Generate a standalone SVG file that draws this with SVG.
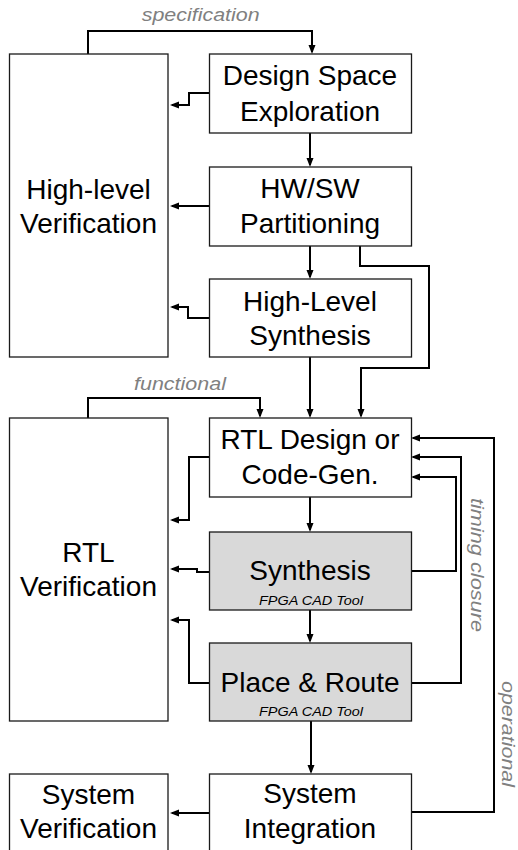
<svg xmlns="http://www.w3.org/2000/svg" width="518" height="850" viewBox="0 0 518 850">
<style>
.box{fill:#fff;stroke:#1a1a1a;stroke-width:1.3}
.tool{fill:#d9d9d9;stroke:#1a1a1a;stroke-width:1.3}
.t{font-family:"Liberation Sans",Arial,sans-serif;font-size:28px;fill:#000;text-anchor:middle}
.s{font-family:"Liberation Sans",Arial,sans-serif;font-size:13px;font-style:italic;fill:#000;text-anchor:middle}
.lbl{font-family:"Liberation Sans",Arial,sans-serif;font-size:18px;font-style:italic;fill:#808080}
.c{fill:none;stroke:#000;stroke-width:2;marker-end:url(#ah)}
</style>
<defs>
<marker id="ah" markerUnits="userSpaceOnUse" markerWidth="10" markerHeight="8" refX="7" refY="3.5" orient="auto">
<path d="M0,0 L9,3.5 L0,7 z" fill="#000"/>
</marker>
</defs>
<g id="connectors">
<path class="c" d="M88,54 V31 H312 V52"/>
<path class="c" d="M209,93 H189 V105 H172"/>
<path class="c" d="M310,133 V165"/>
<path class="c" d="M209,206 H172"/>
<path class="c" d="M310,246 V277"/>
<path class="c" d="M209,318 H188 V307 H172"/>
<path class="c" d="M360,246 V266 H429 V368 H361 V416"/>
<path class="c" d="M310,357 V416"/>
<path class="c" d="M88,418 V398 H260 V416"/>
<path class="c" d="M209,457 H189 V520 H172"/>
<path class="c" d="M310,497 V530"/>
<path class="c" d="M209,572 H197 V569 H172"/>
<path class="c" d="M411,571 H456 V477 H413"/>
<path class="c" d="M310,610 V641"/>
<path class="c" d="M209,683 H189 V620 H172"/>
<path class="c" d="M411,683 H461 V457 H413"/>
<path class="c" d="M311,721 V772"/>
<path class="c" d="M209,813 H172"/>
<path class="c" d="M411,812 H494 V438 H413"/>
</g>
<g id="labels">
<text class="lbl" x="141.7" y="21" textLength="118" lengthAdjust="spacingAndGlyphs">specification</text>
<text class="lbl" x="134" y="390" textLength="92" lengthAdjust="spacingAndGlyphs">functional</text>
<text class="lbl" transform="translate(471,498) rotate(90)" textLength="134" lengthAdjust="spacingAndGlyphs">timing closure</text>
<text class="lbl" transform="translate(501.5,681) rotate(90)" textLength="106" lengthAdjust="spacingAndGlyphs">operational</text>
</g>
<g id="hlv">
<rect class="box" x="9.5" y="54" width="158.5" height="303"/>
<text class="t" x="88.5" y="198.5">High-level</text>
<text class="t" x="88.5" y="233">Verification</text>
</g>
<g id="dse">
<rect class="box" x="209.5" y="54" width="202" height="79"/>
<text class="t" x="310" y="85">Design Space</text>
<text class="t" x="310" y="120.7">Exploration</text>
</g>
<g id="hwsw">
<rect class="box" x="209.5" y="167" width="202" height="79"/>
<text class="t" x="310" y="198.3">HW/SW</text>
<text class="t" x="310" y="233.3">Partitioning</text>
</g>
<g id="hls">
<rect class="box" x="209.5" y="279" width="202" height="78"/>
<text class="t" x="310" y="310.7">High-Level</text>
<text class="t" x="310" y="345">Synthesis</text>
</g>
<g id="rtlv">
<rect class="box" x="9.5" y="418" width="158.5" height="303"/>
<text class="t" x="88.5" y="561.7">RTL</text>
<text class="t" x="88.5" y="596">Verification</text>
</g>
<g id="rtl">
<rect class="box" x="209.5" y="418" width="202" height="79"/>
<text class="t" x="310" y="449.3">RTL Design or</text>
<text class="t" x="310" y="484">Code-Gen.</text>
</g>
<g id="syn">
<rect class="tool" x="209.5" y="532" width="202" height="78"/>
<text class="t" x="310" y="580">Synthesis</text>
<text class="s" x="311" y="605" textLength="104" lengthAdjust="spacingAndGlyphs">FPGA CAD Tool</text>
</g>
<g id="pr">
<rect class="tool" x="209.5" y="643" width="202" height="78"/>
<text class="t" x="310" y="691.7">Place &amp; Route</text>
<text class="s" x="311" y="715.7" textLength="104" lengthAdjust="spacingAndGlyphs">FPGA CAD Tool</text>
</g>
<g id="sv">
<rect class="box" x="9.5" y="774" width="158.5" height="90"/>
<text class="t" x="88.5" y="804">System</text>
<text class="t" x="88.5" y="838.3">Verification</text>
</g>
<g id="si">
<rect class="box" x="209.5" y="774" width="202" height="90"/>
<text class="t" x="310" y="803.3">System</text>
<text class="t" x="310" y="838.3">Integration</text>
</g>
</svg>
